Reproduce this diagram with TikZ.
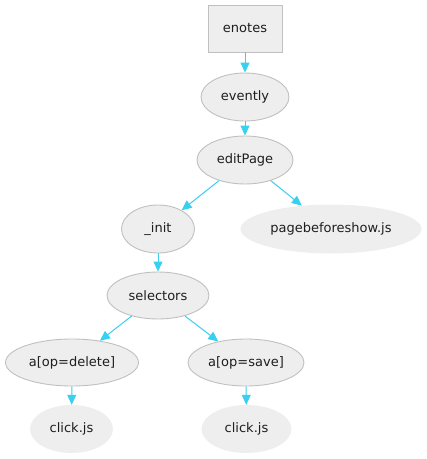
\documentclass[tikz,border=0pt]{standalone}
\usepackage{fontspec}
\setmainfont{DejaVu Sans}
\usetikzlibrary{shapes.geometric,arrows.meta}
\definecolor{nodefill}{HTML}{EEEEEE}
\definecolor{nodeline}{HTML}{C0C0C0}
\definecolor{edgecol}{HTML}{38D0F0}
\definecolor{txt}{HTML}{1E1E1E}
\tikzset{
  every node/.style={font=\fontsize{13}{15}\selectfont, text=txt},
  boxnode/.style={draw=nodeline, fill=nodefill, line width=0.9pt, minimum width=74pt, minimum height=47pt, inner sep=0pt},
  ell/.style={ellipse, draw=nodeline, fill=nodefill, line width=0.9pt, inner sep=0pt},
  ellnb/.style={ellipse, fill=nodefill, inner sep=0pt},
  edge/.style={draw=edgecol, line width=1pt, -{Triangle[length=10pt,width=9pt]}}
}
\begin{document}
\begin{tikzpicture}[x=1pt,y=-1pt]
\useasboundingbox (0,0) rectangle (427,459);
\node[boxnode] (enotes) at (245,28.5) {enotes};
\node[ell, minimum width=88pt, minimum height=48pt] (evently) at (245,97) {evently};
\node[ell, minimum width=96pt, minimum height=48pt] (editPage) at (245,160) {editPage};
\node[ell, minimum width=73pt, minimum height=48pt] (init) at (158,229) {\_init};
\node[ellnb, minimum width=181pt, minimum height=49pt] (pbs) at (331,229) {pagebeforeshow.js};
\node[ell, minimum width=102pt, minimum height=47pt] (selectors) at (158,295.5) {selectors};
\node[ell, minimum width=133pt, minimum height=47pt] (del) at (72,362.5) {a[op=delete]};
\node[ell, minimum width=116pt, minimum height=47pt] (save) at (246,362.5) {a[op=save]};
\node[ellnb, minimum width=83pt, minimum height=48pt] (click1) at (71.5,429) {click.js};
\node[ellnb, minimum width=90pt, minimum height=48pt] (click2) at (246.5,429) {click.js};
\draw[edge] (enotes) -- (evently);
\draw[edge] (evently) -- (editPage);
\draw[edge] (editPage) -- (init);
\draw[edge] (editPage) -- (pbs);
\draw[edge] (init) -- (selectors);
\draw[edge] (selectors) -- (del);
\draw[edge] (selectors) -- (save);
\draw[edge] (del) -- (click1);
\draw[edge] (save) -- (click2);
\end{tikzpicture}
\end{document}
